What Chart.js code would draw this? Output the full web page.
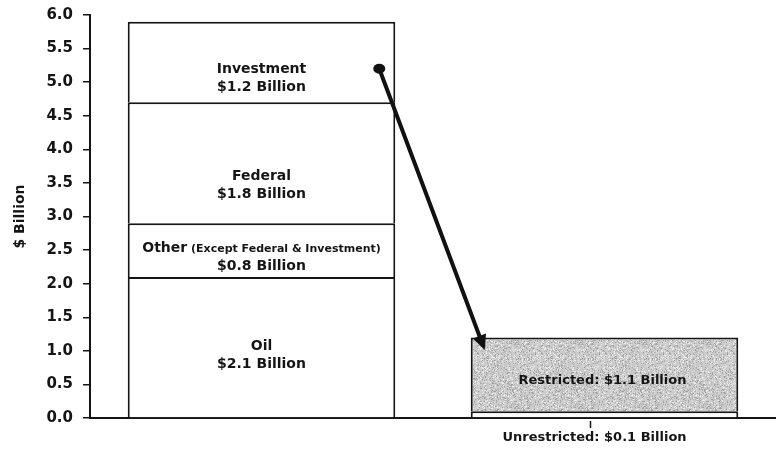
<!DOCTYPE html>
<html>
<head>
<meta charset="utf-8">
<script src="https://cdn.jsdelivr.net/npm/chart.js@4.4.0/dist/chart.umd.min.js"></script>
<style>
  html, body { margin: 0; padding: 0; background: #fff; }
  #wrap { width: 776px; height: 454px; }
</style>
</head>
<body>
<div id="wrap"><canvas id="myChart" width="776" height="454"></canvas></div>
<script>
// chart values
const categories = ['Revenue', 'Balance'];
const segmentNames = ['Oil', 'Other', 'Federal', 'Investment', 'Unrestricted', 'Restricted'];
const revenueValues = [2.1, 0.8, 1.8, 1.2];   // left bar, bottom to top
const balanceValues = [0.1, 1.1];             // right bar, bottom to top
const segmentAmounts = ['$2.1 Billion', '$0.8 Billion', '$1.8 Billion', '$1.2 Billion', '$0.1 Billion', '$1.1 Billion'];
const yTickValues = [0, 0.5, 1, 1.5, 2, 2.5, 3, 3.5, 4, 4.5, 5, 5.5, 6];
const arrowFrom = 5.2;   // $ Billion on left bar
const arrowTo = 1.1;     // $ Billion on right bar

const FONT = '"DejaVu Sans", "Liberation Sans", Arial, sans-serif';
const INK = '#151515';

// speckled grey for the restricted block (deterministic hash, not data)
function speckle() {
    const c = document.createElement('canvas');
    c.width = 64; c.height = 64;
    const g = c.getContext('2d');
    g.fillStyle = '#cdcdcd';
    g.fillRect(0, 0, 64, 64);
    for (let yy = 0; yy < 64; yy++) {
        for (let xx = 0; xx < 64; xx++) {
            const h = Math.abs(Math.sin(xx * 12.9898 + yy * 78.233) * 43758.5453) % 1;
            if (h < 0.3) {
                const v = 150 + Math.floor(h * 200);
                g.fillStyle = 'rgb(' + v + ',' + v + ',' + v + ')';
                g.fillRect(xx, yy, 1, 1);
            } else if (h > 0.85) {
                g.fillStyle = '#ececec';
                g.fillRect(xx, yy, 1, 1);
            }
        }
    }
    return g.createPattern(c, 'repeat');
}

const fills = ['#fff', '#fff', '#fff', '#fff', '#fff', speckle()];

const datasets = segmentNames.map((name, i) => ({
    label: name,
    data: i < 4 ? [revenueValues[i], null] : [null, balanceValues[i - 4]],
    backgroundColor: fills[i],
    borderColor: INK,
    borderWidth: 2,
    borderSkipped: 'bottom',
    stack: 'all',
    barPercentage: 0.78,
    categoryPercentage: 1.0
}));

// label y nudges (px) so text sits like the original
const labelNudge = [8, 7, 23, 16, 0, 6];

const segmentText = {
    id: 'segmentText',
    afterDatasetsDraw(chart) {
        const ctx = chart.ctx;
        const y = chart.scales.y;
        ctx.save();
        ctx.fillStyle = INK;
        ctx.textAlign = 'center';
        ctx.textBaseline = 'middle';

        for (let i = 0; i < 4; i++) {
            const bar = chart.getDatasetMeta(i).data[0];
            const cy = (bar.y + bar.base) / 2 + labelNudge[i];
            if (i === 1) {
                // Other line has a smaller note
                ctx.font = 'bold 14px ' + FONT;
                const w1 = ctx.measureText('Other').width;
                ctx.font = 'bold 11px ' + FONT;
                const note = ' (Except Federal & Investment)';
                const w2 = ctx.measureText(note).width;
                const x0 = bar.x - (w1 + w2) / 2;
                ctx.textAlign = 'left';
                ctx.font = 'bold 14px ' + FONT;
                ctx.fillText('Other', x0, cy - 9);
                ctx.font = 'bold 11px ' + FONT;
                ctx.fillText(note, x0 + w1, cy - 8);
                ctx.textAlign = 'center';
            } else {
                ctx.font = 'bold 14px ' + FONT;
                ctx.fillText(segmentNames[i], bar.x, cy - 9);
            }
            ctx.font = 'bold 14px ' + FONT;
            ctx.fillText(segmentAmounts[i], bar.x, cy + 9);
        }

        // restricted, inside the grey block
        const rb = chart.getDatasetMeta(5).data[1];
        ctx.font = 'bold 13px ' + FONT;
        ctx.fillText(segmentNames[5] + ': ' + segmentAmounts[5], rb.x - 2, (rb.y + rb.base) / 2 + labelNudge[5]);

        // unrestricted, below the axis with a small leader
        const ub = chart.getDatasetMeta(4).data[1];
        const axisY = y.getPixelForValue(0);
        ctx.strokeStyle = INK;
        ctx.lineWidth = 1.5;
        ctx.beginPath();
        ctx.moveTo(ub.x - 14, axisY + 3);
        ctx.lineTo(ub.x - 14, axisY + 10);
        ctx.stroke();
        ctx.fillText(segmentNames[4] + ': ' + segmentAmounts[4], ub.x - 10, axisY + 20);

        // arrow from investment to restricted
        const lb = chart.getDatasetMeta(3).data[0];
        const sx = lb.x + lb.width / 2 - 16;
        const sy = y.getPixelForValue(arrowFrom);
        const ex = rb.x - rb.width / 2 + 14;
        const ey = y.getPixelForValue(arrowTo) + 6;
        const ang = Math.atan2(ey - sy, ex - sx);
        ctx.strokeStyle = '#111';
        ctx.fillStyle = '#111';
        ctx.lineWidth = 4;
        ctx.lineCap = 'round';
        ctx.beginPath();
        ctx.moveTo(sx, sy);
        ctx.lineTo(ex - 10 * Math.cos(ang), ey - 10 * Math.sin(ang));
        ctx.stroke();
        ctx.beginPath();
        ctx.ellipse(sx, sy, 6, 5, 0, 0, Math.PI * 2);
        ctx.fill();
        ctx.beginPath();
        ctx.moveTo(ex, ey);
        ctx.lineTo(ex - 15 * Math.cos(ang) + 7 * Math.sin(ang), ey - 15 * Math.sin(ang) - 7 * Math.cos(ang));
        ctx.lineTo(ex - 15 * Math.cos(ang) - 7 * Math.sin(ang), ey - 15 * Math.sin(ang) + 7 * Math.cos(ang));
        ctx.closePath();
        ctx.fill();
        ctx.restore();
    }
};

const myChartRef = document.getElementById('myChart').getContext('2d');

new Chart(myChartRef, {
    type: 'bar',
    data: {
        labels: categories,
        datasets: datasets
    },
    options: {
        responsive: false,
        animation: false,
        layout: { padding: { top: 15, right: 0, bottom: 36, left: 0 } },
        plugins: {
            legend: { display: false },
            tooltip: { enabled: false }
        },
        scales: {
            x: {
                stacked: true,
                grid: { display: false, drawTicks: false },
                border: { display: true, color: INK, width: 2 },
                ticks: { display: false },
                afterFit(scale) { scale.height = 0; }
            },
            y: {
                stacked: true,
                min: 0,
                max: 6,
                afterBuildTicks(scale) {
                    scale.ticks = yTickValues.map(v => ({ value: v }));
                },
                afterFit(scale) {
                    scale.width = 90;
                    scale.paddingTop = 0;
                    scale.paddingBottom = 0;
                },
                grid: { drawOnChartArea: false, drawTicks: true, tickLength: 7, color: INK, lineWidth: 1.5 },
                border: { display: true, color: INK, width: 2 },
                ticks: {
                    padding: 10,
                    color: INK,
                    font: { family: FONT, size: 15, weight: 'bold' },
                    callback: v => Number(v).toFixed(1)
                },
                title: {
                    display: true,
                    text: '$ Billion',
                    color: INK,
                    padding: { top: 12, bottom: 0 },
                    font: { family: FONT, size: 14, weight: 'bold' }
                }
            }
        }
    },
    plugins: [segmentText]
});
</script>
</body>
</html>
